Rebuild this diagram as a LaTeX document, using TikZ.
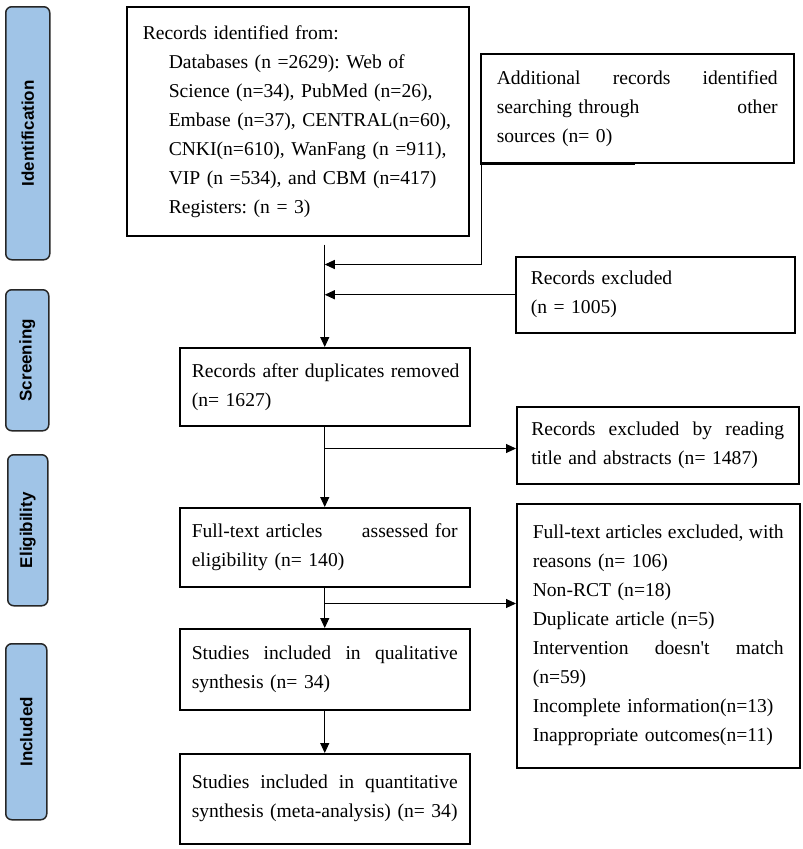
\documentclass[tikz,border=0pt]{standalone}
\usepackage{fontspec}
\usepackage{graphicx}
\setmainfont{Liberation Serif}[Ligatures=TeXOff]
\newfontfamily\sidefont{Liberation Sans}
\usetikzlibrary{arrows.meta,calc}
\definecolor{sideblue}{RGB}{160,196,231}
\newcommand\jl[1]{\makebox[\hsize]{#1}}
\newcommand\lft[1]{\makebox[\hsize][l]{#1}}
\tikzset{
  box/.style={draw=black, line width=1.5pt, inner sep=0pt, anchor=north west, align=left,
    font=\fontsize{19.6}{29}\selectfont\frenchspacing},
  side/.style={draw=black!85, fill=sideblue, line width=1.5pt, rounded corners=6pt,
    inner sep=0pt, anchor=north west, font=\sidefont\bfseries\fontsize{17}{20}\selectfont},
  conn/.style={line width=1pt, -{Triangle[length=10pt,width=9pt]}},
  plainline/.style={line width=1pt}
}
\begin{document}
\begin{tikzpicture}[x=1pt,y=-1pt]
\useasboundingbox (0,0) rectangle (803,849);

% side labels
\node[side, minimum width=44pt, minimum height=253pt] (sid) at (5,6) {\rotatebox{90}{Identification}};
\node[side, minimum width=43pt, minimum height=141pt] (sscr) at (5,289) {\rotatebox{90}{Screening}};
\node[side, minimum width=40pt, minimum height=151pt] (selig) at (7,454) {\rotatebox{90}{Eligibility}};
\node[side, minimum width=41pt, minimum height=176pt] (sinc) at (5,643) {\rotatebox{90}{Included}};

% boxes
\node[box, minimum width=342pt, minimum height=229pt, text width=310pt] (top) at (126,6) {%
\lft{Records identified from:}\\
\lft{\hspace*{26pt}Databases (n =2629): Web of}\\
\lft{\hspace*{26pt}Science (n=34), PubMed (n=26),}\\
\lft{\hspace*{26pt}Embase (n=37), CENTRAL(n=60),}\\
\lft{\hspace*{26pt}CNKI(n=610), WanFang (n =911),}\\
\lft{\hspace*{26pt}VIP (n =534), and CBM (n=417)}\\
\lft{\hspace*{26pt}Registers: (n = 3)}};

\node[box, minimum width=313pt, minimum height=109pt, text width=281pt] (add) at (480,53) {%
\jl{Additional\hfill records\hfill identified}\\
\jl{searching through\hfill other}\\
\lft{sources (n= 0)}};

\node[box, minimum width=279pt, minimum height=76pt, text width=249pt] (excl) at (515,256) {%
\lft{Records excluded}\\
\lft{(n = 1005)}};

\node[box, minimum width=290pt, minimum height=78pt, text width=266pt] (dup) at (179,347) {%
\lft{Records after duplicates removed}\\
\lft{(n= 1627)}};

\node[box, minimum width=282pt, minimum height=77pt, text width=253pt] (read) at (516,406) {%
\jl{Records\hfill excluded\hfill by\hfill reading}\\
\lft{title and abstracts (n= 1487)}};

\node[box, minimum width=290pt, minimum height=79pt, text width=266pt] (fta) at (179,507) {%
\jl{Full-text articles\hfill assessed for}\\
\lft{eligibility (n= 140)}};

\node[box, minimum width=283pt, minimum height=264pt, text width=251pt] (ftex) at (516,503) {%
\jl{Full-text\hfill articles\hfill excluded,\hfill with}\\
\lft{reasons (n= 106)}\\
\lft{Non-RCT (n=18)}\\
\lft{Duplicate article (n=5)}\\
\jl{Intervention\hfill doesn't\hfill match}\\
\lft{(n=59)}\\
\lft{Incomplete information(n=13)}\\
\lft{Inappropriate outcomes(n=11)}};

\node[box, minimum width=290pt, minimum height=81pt, text width=266pt] (qual) at (179,628) {%
\jl{Studies\hfill included\hfill in\hfill qualitative}\\
\lft{synthesis (n= 34)}};

\node[box, minimum width=290pt, minimum height=90pt, text width=266pt] (quant) at (179,753) {%
\jl{Studies\hfill included\hfill in\hfill quantitative}\\
\lft{synthesis (meta-analysis) (n= 34)}};

% connectors
\coordinate (m0) at ($(top.south -| dup.north)+(0,8)$);
\coordinate (j1) at ($(m0)+(0,20)$);
\coordinate (a1) at ($(add.south west)+(1,0)$);
\draw[line width=2.4pt] (add.south west) -- ++(155,0);
\draw[conn] (m0) -- (dup.north);
\draw[conn] (a1) |- (j1);
\draw[conn] (excl.west) -- (excl.west -| dup.north);

\coordinate (b1) at ($(dup.south)+(0,22)$);
\draw[conn] (dup.south) -- (fta.north);
\draw[conn] (b1) -- (b1 -| read.west);

\coordinate (b2) at ($(fta.south)+(0,16)$);
\draw[conn] (fta.south) -- (qual.north);
\draw[conn] (b2) -- (b2 -| ftex.west);

\draw[conn] (qual.south) -- (quant.north);
\end{tikzpicture}
\end{document}
